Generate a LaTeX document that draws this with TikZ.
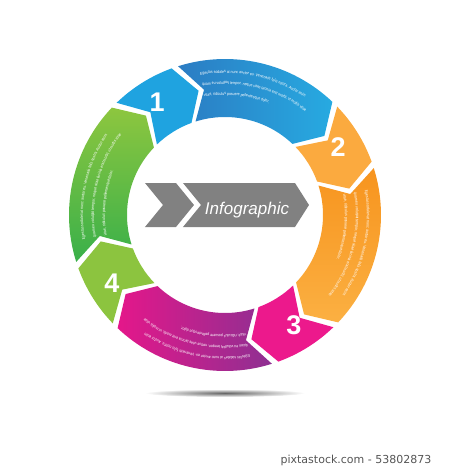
\documentclass[tikz,border=0pt]{standalone}
\usepackage{fontspec}
\setmainfont{Liberation Sans}
\newfontfamily\creditfont{DejaVu Sans}
\newfontfamily\bandfamily[FakeStretch=0.85]{Liberation Sans}
\usetikzlibrary{decorations.text}

\definecolor{bluedark}{HTML}{2B7CC3}
\definecolor{bluelight}{HTML}{27AAE1}
\definecolor{bluenum}{HTML}{1FA3E0}
\definecolor{orangedark}{HTML}{F7941E}
\definecolor{orangelight}{HTML}{FBB042}
\definecolor{orangenum}{HTML}{FBAA3F}
\definecolor{pinkdark}{HTML}{E4178A}
\definecolor{purpledark}{HTML}{8E3092}
\definecolor{pinknum}{HTML}{EC198C}
\definecolor{greenlight}{HTML}{8DC63F}
\definecolor{greendark}{HTML}{39B04A}
\definecolor{greennum}{HTML}{8CC43F}
\definecolor{arrowgray}{HTML}{818181}
\definecolor{creditgray}{HTML}{555555}

\newcommand{\bandfont}{\bandfamily\fontsize{4.1}{4.5}\selectfont}

\newcommand{\ringseg}[3]{%
    \path[#3] (#1:156) arc[start angle=#1, end angle=#2, radius=156]
        -- ({#2-8}:127) -- (#2:98)
        arc[start angle=#2, end angle=#1, radius=98]
        -- ({#1-8}:127) -- cycle;}

\newcommand{\bandlines}[1]{%
    \path[decorate, decoration={text along path, text color=white,
        text={|\bandfont|Egestas sodales at nunc auctor eu. Venenatis felis nostra. Auctor enim}}]
        (#1:142) arc[start angle=#1, end angle={#1-57}, radius=142];
    \path[decorate, decoration={text along path, text color=white,
        text={|\bandfont|quam eu volutpat tempor, neque vitae lacinia erat morbi, ut mollis vitae}}]
        (#1:131) arc[start angle=#1, end angle={#1-59}, radius=131];
    \path[decorate, decoration={text along path, text color=white,
        text={|\bandfont|vitae, ridiculus posuere pellentesque dolor.}}]
        (#1:120) arc[start angle=#1, end angle={#1-55}, radius=120];}

\begin{document}
\begin{tikzpicture}[x=1pt,y=1pt]
    \tikzstyle{num} = [text=white, font=\fontsize{27}{27}\selectfont\bfseries];
    \tikzstyle{title} = [text=white, font=\fontsize{17}{17}\selectfont\itshape];
    \tikzstyle{credit} = [text=creditgray, font=\creditfont\fontsize{11}{11}\selectfont];

    \useasboundingbox (-225,-254) rectangle (225,215);

    \shade[inner color=black!60, outer color=white]
        (0,-178) ellipse [x radius=80, y radius=4];

    \ringseg{134}{110}{fill=bluenum}
    \ringseg{107.5}{46.5}{shade, left color=bluedark, right color=bluelight}
    \ringseg{44}{20}{fill=orangenum}
    \ringseg{17.5}{-43.5}{shade, top color=orangedark, bottom color=orangelight}
    \ringseg{-46}{-70}{fill=pinknum}
    \ringseg{-72.5}{-133.5}{shade, left color=pinkdark, right color=purpledark}
    \ringseg{-136}{-160}{fill=greennum}
    \ringseg{-162.5}{-223.5}{shade, top color=greenlight, bottom color=greendark}

    \bandlines{100}
    \bandlines{10}
    \bandlines{-80}
    \bandlines{-170}

    \node[num] (n1) at (121:132) {1};
    \node[num] (n2) at (31:132) {2};
    \node[num] (n3) at (-58:130) {3};
    \node[num] (n4) at (-149:132) {4};

    \fill[arrowgray] (-80,32) -- (-49,32) -- (-31,10) -- (-49,-12)
        -- (-80,-12) -- (-62,10) -- cycle;
    \fill[arrowgray] (-42,32) -- (70,32) -- (84,10) -- (70,-12)
        -- (-42,-12) -- (-24,10) -- cycle;
    \node[title] (title) at (22,5) {Infographic};

    \node[credit] (credit) at (131,-245) {pixtastock.com - 53802873};
\end{tikzpicture}
\end{document}
